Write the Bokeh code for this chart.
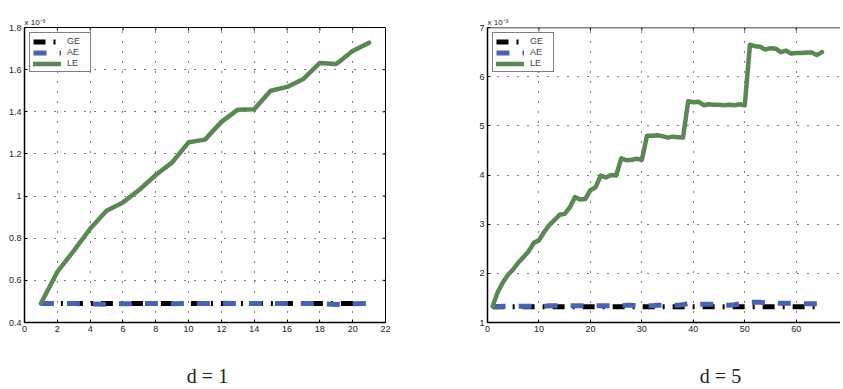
import math
from bokeh.plotting import figure
from bokeh.layouts import row, column
from bokeh.models import Legend, LegendItem, Title, FixedTicker, Span
from bokeh.core.properties import value
from bokeh.embed import file_html
from bokeh.resources import INLINE

# ---------------- data (values in units of 1e-3) ----------------
labels = ["GE", "AE", "LE"]

x1 = list(range(1, 22))
ge1 = [0.49, 0.49, 0.49, 0.49, 0.49, 0.49, 0.49, 0.49, 0.49, 0.49, 0.49,
       0.49, 0.49, 0.49, 0.49, 0.49, 0.49, 0.49, 0.49, 0.49, 0.49]
ae1 = [0.49, 0.49, 0.49, 0.488, 0.487, 0.489, 0.49, 0.49, 0.489, 0.49, 0.49,
       0.491, 0.49, 0.49, 0.49, 0.49, 0.49, 0.49, 0.486, 0.489, 0.49]
le1 = [0.49, 0.64, 0.74, 0.845, 0.93, 0.97, 1.03, 1.10, 1.16, 1.255, 1.268,
       1.352, 1.41, 1.412, 1.50, 1.518, 1.556, 1.632, 1.627, 1.688, 1.728]

x5 = list(range(1, 66))
ge5 = [1.32, 1.32, 1.32, 1.32, 1.32, 1.32, 1.32, 1.32, 1.32, 1.32,
       1.32, 1.32, 1.32, 1.32, 1.32, 1.32, 1.32, 1.32, 1.32, 1.32,
       1.32, 1.32, 1.32, 1.32, 1.32, 1.32, 1.32, 1.32, 1.32, 1.32,
       1.32, 1.32, 1.32, 1.32, 1.32, 1.32, 1.32, 1.32, 1.32, 1.32,
       1.32, 1.32, 1.32, 1.32, 1.32, 1.32, 1.32, 1.32, 1.32, 1.32,
       1.32, 1.32, 1.32, 1.32, 1.32, 1.32, 1.32, 1.32, 1.32, 1.32,
       1.32, 1.32, 1.32, 1.32, 1.32]
ae5 = [1.32, 1.32, 1.33, 1.33, 1.33, 1.33, 1.33, 1.33, 1.33, 1.33,
       1.33, 1.34, 1.34, 1.34, 1.34, 1.34, 1.34, 1.34, 1.34, 1.34,
       1.34, 1.34, 1.34, 1.34, 1.34, 1.34, 1.35, 1.35, 1.34, 1.34,
       1.34, 1.34, 1.35, 1.35, 1.35, 1.35, 1.35, 1.36, 1.39, 1.38,
       1.37, 1.37, 1.37, 1.37, 1.36, 1.36, 1.35, 1.36, 1.38, 1.38,
       1.41, 1.41, 1.41, 1.40, 1.40, 1.39, 1.39, 1.39, 1.39, 1.39,
       1.38, 1.38, 1.38, 1.38, 1.38]
le5 = [1.33, 1.62, 1.82, 1.97, 2.08, 2.22, 2.33, 2.45, 2.62, 2.67,
       2.84, 2.98, 3.08, 3.19, 3.21, 3.34, 3.55, 3.50, 3.51, 3.69,
       3.75, 3.99, 3.95, 4.00, 3.99, 4.34, 4.30, 4.31, 4.33, 4.31,
       4.80, 4.80, 4.81, 4.79, 4.76, 4.78, 4.77, 4.76, 5.50, 5.48,
       5.49, 5.42, 5.44, 5.43, 5.43, 5.42, 5.43, 5.42, 5.44, 5.42,
       6.65, 6.62, 6.61, 6.55, 6.58, 6.57, 6.50, 6.53, 6.47, 6.48,
       6.48, 6.49, 6.49, 6.44, 6.50]

xticks1 = [0, 2, 4, 6, 8, 10, 12, 14, 16, 18, 20, 22]
yticks1 = [0.4, 0.6, 0.8, 1.0, 1.2, 1.4, 1.6, 1.8]
ytick_labels1 = ["0.4", "0.6", "0.8", "1", "1.2", "1.4", "1.6", "1.8"]
xticks5 = [0, 10, 20, 30, 40, 50, 60]
yticks5 = [1, 2, 3, 4, 5, 6, 7]
ytick_labels5 = ["1", "2", "3", "4", "5", "6", "7"]
scale_label = "x 10\u207b\u00b3"
captions = ["d = 1", "d = 5"]

GE_COLOR = "#000000"
AE_COLOR = "#4a64ab"
LE_COLOR = "#5a8753"
TICK_FONT = "Liberation Sans"


def make_plot(x, ge, ae, le, xr, yr, xt, yt, ytl, w, h, mbl, mbr, mbt, mbb,
              right_box):
    p = figure(width=w, height=h, x_range=xr, y_range=yr,
               output_backend="svg", toolbar_location=None,
               min_border_left=mbl, min_border_right=mbr,
               min_border_top=mbt, min_border_bottom=mbb)
    p.outline_line_color = "black" if right_box else None
    p.outline_line_width = 1
    p.background_fill_color = "white"
    p.border_fill_color = "white"

    for ax in (p.xaxis[0], p.yaxis[0]):
        ax.major_tick_in = 3
        ax.major_tick_out = 0
        ax.minor_tick_line_color = None
        ax.major_label_text_font = TICK_FONT
        ax.major_label_text_font_size = "9px"
        ax.major_label_text_color = "#222222"
        ax.major_label_standoff = 3
        ax.axis_line_color = "black"
        ax.axis_line_width = 1.5
    p.xaxis[0].ticker = FixedTicker(ticks=xt)
    p.yaxis[0].ticker = FixedTicker(ticks=yt)
    p.yaxis[0].major_label_overrides = {v: s for v, s in zip(yt, ytl)}

    for g in (p.xgrid[0], p.ygrid[0]):
        g.grid_line_color = "black"
        g.grid_line_dash = "1 9"
        g.grid_line_width = 1
    p.xgrid[0].ticker = FixedTicker(ticks=xt)
    p.ygrid[0].ticker = FixedTicker(ticks=yt)

    # top edge (right plot has no visible right border) and MATLAB-style box ticks
    if not right_box:
        p.add_layout(Span(location=yr[1], dimension="width",
                          line_color="black", line_width=1.5))
    p.ray(x=xt, y=[yr[1]] * len(xt), length=3, length_units="screen",
          angle=-math.pi / 2, line_color="black", line_width=1)
    if right_box:
        p.ray(x=[xr[1]] * len(yt), y=yt, length=3, length_units="screen",
              angle=math.pi, line_color="black", line_width=1)

    r_ge = p.line(x, ge, line_color=GE_COLOR, line_width=5, line_dash="12 8 2 8")
    r_ae = p.line(x, ae, line_color=AE_COLOR, line_width=5, line_dash="13 13")
    r_le = p.line(x, le, line_color=LE_COLOR, line_width=4.5,
                  line_join="round", line_cap="round")

    legend = Legend(items=[LegendItem(label=labels[0], renderers=[r_ge]),
                           LegendItem(label=labels[1], renderers=[r_ae]),
                           LegendItem(label=labels[2], renderers=[r_le])],
                    location="top_left")
    legend.border_line_color = "black"
    legend.border_line_width = 1.5
    legend.label_text_font = TICK_FONT
    legend.label_text_font_size = "9px"
    legend.glyph_width = 28
    legend.glyph_height = 9
    legend.label_height = 9
    legend.spacing = 1
    legend.padding = 3
    legend.margin = 5
    legend.label_standoff = 6
    p.add_layout(legend)

    p.add_layout(Title(text=scale_label, align="left", standoff=1,
                       text_font=TICK_FONT, text_font_size="8px",
                       text_font_style="normal", text_color="#222222"), "above")
    return p


def make_caption(text, w, h, cx, cy):
    c = figure(width=w, height=h, x_range=(0, w), y_range=(0, h),
               output_backend="svg", toolbar_location=None,
               x_axis_location=None, y_axis_location=None,
               min_border_left=0, min_border_right=0,
               min_border_top=0, min_border_bottom=0)
    c.outline_line_color = None
    c.xgrid.visible = False
    c.ygrid.visible = False
    c.text(x=[cx], y=[cy], text=[text], text_align="center",
           text_baseline="middle", text_font=value("Liberation Serif"),
           text_font_size="20px", text_color="#222222")
    return c


p1 = make_plot(x1, ge1, ae1, le1, (0, 22), (0.4, 1.8), xticks1, yticks1,
               ytick_labels1, 448, 345, 24, 63, 22, 20, True)
p2 = make_plot(x5, ge5, ae5, le5, (0, 68.6), (1, 7), xticks5, yticks5,
               ytick_labels5, 392, 345, 39, 0, 27, 23, False)
c1 = make_caption(captions[0], 448, 42, 207, 12)
c2 = make_caption(captions[1], 392, 42, 272, 12)

layout = column(row(p1, p2, spacing=0), row(c1, c2, spacing=0), spacing=0)
open("out.html", "w").write(file_html(layout, INLINE))
